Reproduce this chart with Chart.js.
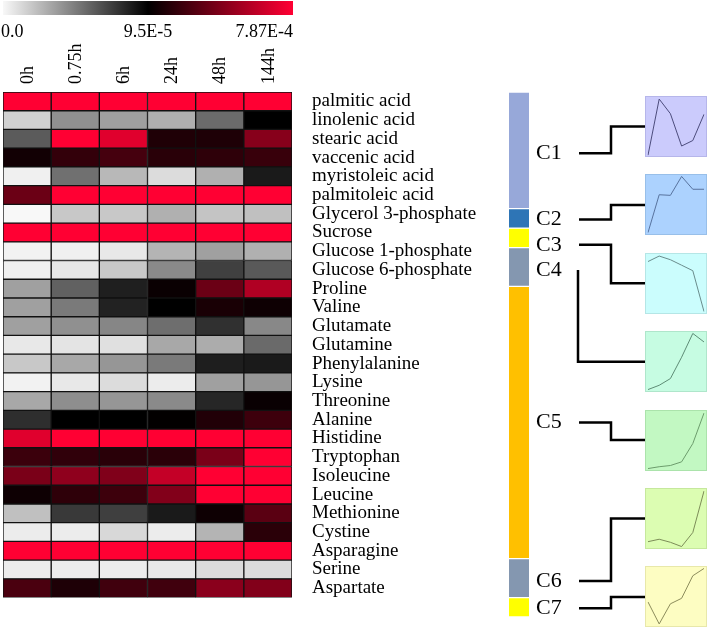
<!DOCTYPE html>
<html>
<head>
<meta charset="utf-8">
<script src="https://cdn.jsdelivr.net/npm/chart.js@4/dist/chart.umd.min.js"></script>
<style>
  html, body { margin: 0; padding: 0; background: #fff; }
  #page { position: relative; width: 709px; height: 629px; overflow: hidden; }
  canvas { position: absolute; }
</style>
</head>
<body>
<div id="page">
  <canvas id="heat" width="500" height="629" style="left:0;top:0"></canvas>
  <canvas id="clusters" width="209" height="629" style="left:500px;top:0"></canvas>
</div>
<script>
// time points (columns) and metabolites (rows)
var TIMES = ['0h', '0.75h', '6h', '24h', '48h', '144h'];
var METABOLITES = ['palmitic acid', 'linolenic acid', 'stearic acid', 'vaccenic acid',
    'myristoleic acid', 'palmitoleic acid', 'Glycerol 3-phosphate', 'Sucrose',
    'Glucose 1-phosphate', 'Glucose 6-phosphate', 'Proline', 'Valine', 'Glutamate',
    'Glutamine', 'Phenylalanine', 'Lysine', 'Threonine', 'Alanine', 'Histidine',
    'Tryptophan', 'Isoleucine', 'Leucine', 'Methionine', 'Cystine', 'Asparagine',
    'Serine', 'Aspartate'];

// cell values, in units of 1E-5 (one array per time point)
var VAL_0H    = [80, 1.5, 6.0, 14.3, 0.3, 38.6, 0, 80, 0.23, 0.31, 3.37, 3.37, 3.37, 0.61, 1.84, 0.23, 3.06, 7.74, 70.4, 25.4, 42.7, 13.3, 2.15, 0.46, 80, 0.46, 29.6];
var VAL_075H  = [80, 4.0, 80, 23.3, 5.2, 80, 1.84, 80, 0.31, 0.67, 5.8, 4.83, 3.98, 0.77, 3.06, 0.61, 4.06, 9.5, 80, 22.6, 48.2, 22, 7.3, 0.46, 80, 0.46, 17.6];
var VAL_6H    = [80, 3.4, 70.4, 28.2, 2.45, 80, 1.84, 80, 0.61, 1.84, 8.3, 8.2, 4.37, 0.92, 3.75, 1.07, 3.75, 9.5, 80, 20.6, 44.1, 26, 7.1, 1.23, 80, 0.46, 27];
var VAL_24H   = [80, 2.8, 17.8, 20.6, 1.07, 80, 2.76, 80, 2.6, 4.2, 12.3, 9.5, 5.3, 3.06, 4.83, 0.46, 4.2, 10, 80, 21, 62.8, 44.8, 8.5, 0.46, 80, 0.61, 26.8];
var VAL_48H   = [80, 5.4, 17.6, 22, 2.76, 80, 2.0, 80, 3.37, 7.05, 38.6, 16.4, 7.66, 2.91, 8.35, 3.37, 8.04, 18.5, 80, 42.7, 80, 80, 13.3, 2.6, 80, 1.07, 47];
var VAL_144H  = [80, 9.5, 46, 24.7, 8.5, 80, 2.15, 80, 2.76, 6.1, 57.3, 13.3, 4.29, 5.44, 8.5, 3.75, 12, 26, 80, 80, 80, 80, 33.9, 21, 80, 1.07, 44.8];
var VALUES = [VAL_0H, VAL_075H, VAL_6H, VAL_24H, VAL_48H, VAL_144H];

// colour key (same 1E-5 units) and its labels
var KEY_STOPS = [0, 9.5, 78.7];
var KEY_LABELS = ['0.0', '9.5E-5', '7.87E-4'];

// clusters, top to bottom (sizes are numbers of rows)
var CLUSTER_NAMES = ['C1', 'C2', 'C3', 'C4', 'C5', 'C6', 'C7'];
var CLUSTER_SIZES = [6, 1, 1, 2, 14, 2, 1];
var CLUSTER_COLORS = ['#97a8d9', '#2e75b6', '#ffff00', '#8497b0', '#ffc000', '#8497b0', '#ffff00'];

// mean profile of each cluster (scaled 0..1)
var PROFILE_C1 = [0.03, 0.95, 0.71, 0.18, 0.27, 0.70];
var PROFILE_C2 = [0.04, 0.66, 0.65, 0.96, 0.75, 0.75];
var PROFILE_C3 = [0.86, 0.95, 0.89, 0.80, 0.71, 0.04];
var PROFILE_C4 = [0.04, 0.11, 0.22, 0.57, 0.96, 0.82];
var PROFILE_C5 = [0.04, 0.07, 0.09, 0.15, 0.45, 0.95];
var PROFILE_C6 = [0.12, 0.16, 0.11, 0.04, 0.27, 0.95];
var PROFILE_C7 = [0.41, 0.05, 0.38, 0.47, 0.84, 0.96];
var PROFILES = [PROFILE_C1, PROFILE_C2, PROFILE_C3, PROFILE_C4, PROFILE_C5, PROFILE_C6, PROFILE_C7];

var PANEL_FILL = ['#cbcbfc', '#acd2fe', '#cbfdfd', '#c6fce2', '#c2f8c2', '#dcfdb2', '#fdfdc2'];
var PANEL_EDGE = ['#b6b6ea', '#98bfe9', '#b5e6e6', '#afe6cb', '#abe3ab', '#c6e89d', '#e8e8aa'];
var PANEL_LINE = ['#4c4c7c', '#58739e', '#6a8c8c', '#5e8c76', '#6c9c6c', '#7c8c58', '#8c8c5c'];

var SERIF = "'Liberation Serif', 'Times New Roman', serif";
var PANEL_LEFT = 645, PANEL_TOP = 96, PANEL_STEP = 78.4, PANEL_W = 62, PANEL_H = 61;
var LABEL_NUDGE = [3, 1, 7, 3, 0, 3, 1];

Chart.defaults.animation = false;
Chart.defaults.font.family = SERIF;
Chart.defaults.color = '#000';

function cellColor(v) {
    var mid = KEY_STOPS[1], max = KEY_STOPS[2];
    if (v <= mid) {
        var g = Math.round(248 * (1 - v / mid));
        return 'rgb(' + g + ',' + g + ',' + g + ')';
    }
    var f = Math.min(1, (v - mid) / (max - mid));
    return 'rgb(' + Math.round(255 * f) + ',0,' + Math.round(51 * f) + ')';
}

/* colour key and the upright time labels above the heat map */
var keyPlugin = {
    id: 'key',
    afterDraw: function(chart) {
        var ctx = chart.ctx, a = chart.chartArea, xs = chart.scales.x;
        var x0 = a.left, x1 = a.right + 1;
        var grad = ctx.createLinearGradient(x0, 0, x1, 0);
        grad.addColorStop(0, cellColor(KEY_STOPS[0]));
        grad.addColorStop(0.5, cellColor(KEY_STOPS[1]));
        grad.addColorStop(1, cellColor(KEY_STOPS[2]));
        ctx.save();
        ctx.fillStyle = grad;
        ctx.fillRect(x0, 1, x1 - x0, 14);
        ctx.fillStyle = '#000';
        ctx.font = '18px ' + SERIF;
        ctx.textBaseline = 'alphabetic';
        ctx.textAlign = 'left';
        ctx.fillText(KEY_LABELS[0], 1, 37);
        ctx.textAlign = 'center';
        ctx.fillText(KEY_LABELS[1], (x0 + x1) / 2, 37);
        ctx.textAlign = 'right';
        ctx.fillText(KEY_LABELS[2], x1, 37);

        ctx.textAlign = 'left';
        ctx.textBaseline = 'middle';
        for (var i = 0; i < TIMES.length; i++) {
            ctx.save();
            ctx.translate(xs.getPixelForValue(i + 0.5) + 1, a.top - 8);
            ctx.rotate(-Math.PI / 2);
            ctx.fillText(TIMES[i], 0, 0);
            ctx.restore();
        }
        ctx.restore();
    }
};

var heatSets = [];
for (var t = 0; t < TIMES.length; t++) {
    heatSets.push({
        label: TIMES[t],
        data: METABOLITES.map(function() { return 1; }),
        backgroundColor: VALUES[t].map(cellColor),
        borderColor: '#111',
        borderWidth: 1,
        borderSkipped: false,
        barPercentage: 1,
        categoryPercentage: 1
    });
}

new Chart(document.getElementById('heat'), {
    type: 'bar',
    data: { labels: METABOLITES, datasets: heatSets },
    options: {
        indexAxis: 'y',
        responsive: false,
        devicePixelRatio: 1,
        layout: { padding: { left: 3, right: 0, top: 0, bottom: 12 } },
        plugins: { legend: { display: false }, tooltip: { enabled: false } },
        scales: {
            x: {
                type: 'linear', position: 'top', stacked: true, min: 0, max: TIMES.length,
                grid: { display: false }, border: { display: false },
                afterFit: function(s) { s.height = 92; },
                ticks: { display: false }
            },
            y: {
                position: 'right', stacked: true,
                grid: { display: false, drawTicks: false }, border: { display: false },
                afterFit: function(s) { s.width = 208; },
                ticks: { padding: 20, font: { size: 19 }, autoSkip: false }
            }
        }
    },
    plugins: [keyPlugin]
});

/* cluster bar, cluster names and connectors to the profile panels */
var clusterSets = [];
var start = 0;
for (var c = 0; c < CLUSTER_SIZES.length; c++) {
    clusterSets.push({
        label: CLUSTER_NAMES[c],
        data: [[start, start + CLUSTER_SIZES[c]]],
        backgroundColor: CLUSTER_COLORS[c],
        borderColor: '#fff',
        borderWidth: { top: 1, bottom: 1, left: 0, right: 0 },
        borderSkipped: false,
        barPercentage: 1,
        categoryPercentage: 1,
        grouped: false
    });
    start += CLUSTER_SIZES[c];
}

var connectorPlugin = {
    id: 'connectors',
    afterDraw: function(chart) {
        var ctx = chart.ctx, ys = chart.scales.y;
        var from = 0;
        ctx.save();
        ctx.font = '22px ' + SERIF;
        ctx.textBaseline = 'middle';
        ctx.fillStyle = '#000';
        ctx.strokeStyle = '#000';
        ctx.lineWidth = 2.5;
        for (var i = 0; i < CLUSTER_SIZES.length; i++) {
            var yl = ys.getPixelForValue(from + CLUSTER_SIZES[i] / 2) + LABEL_NUDGE[i];
            from += CLUSTER_SIZES[i];
            ctx.fillText(CLUSTER_NAMES[i], 36, yl);
            var yp = PANEL_TOP + PANEL_STEP * i + PANEL_H / 2;
            var xs = (i == 3) ? 78 : 79;
            var xe = (i == 3) ? 78 : 111;
            ctx.beginPath();
            ctx.moveTo(xs, yl);
            ctx.lineTo(xe, yl);
            ctx.lineTo(xe, yp);
            ctx.lineTo(PANEL_LEFT - 500, yp);
            ctx.stroke();
        }
        ctx.restore();
    }
};

new Chart(document.getElementById('clusters'), {
    type: 'bar',
    data: { labels: ['cluster'], datasets: clusterSets },
    options: {
        responsive: false,
        devicePixelRatio: 1,
        layout: { padding: { left: 9, right: 180, top: 92, bottom: 12 } },
        plugins: { legend: { display: false }, tooltip: { enabled: false } },
        scales: {
            x: { display: false },
            y: { display: false, min: 0, max: METABOLITES.length, reverse: true }
        }
    },
    plugins: [connectorPlugin]
});

/* one small line chart per cluster profile */
var page = document.getElementById('page');
PROFILES.forEach(function(p, i) {
    var cv = document.createElement('canvas');
    cv.width = PANEL_W;
    cv.height = PANEL_H;
    cv.style.left = PANEL_LEFT + 'px';
    cv.style.top = Math.round(PANEL_TOP + PANEL_STEP * i) + 'px';
    page.appendChild(cv);
    new Chart(cv, {
        type: 'line',
        data: {
            labels: TIMES,
            datasets: [{ data: p, borderColor: PANEL_LINE[i], borderWidth: 1, pointRadius: 0, tension: 0 }]
        },
        options: {
            responsive: false,
            devicePixelRatio: 1,
            layout: { padding: { left: 3, right: 3, top: 0, bottom: 0 } },
            plugins: { legend: { display: false }, tooltip: { enabled: false } },
            scales: {
                x: { display: false },
                y: { display: false, min: 0, max: 1 }
            }
        },
        plugins: [{
            id: 'panelBg',
            beforeDraw: function(chart) {
                var ctx = chart.ctx;
                ctx.save();
                ctx.fillStyle = PANEL_FILL[i];
                ctx.fillRect(0, 0, chart.width, chart.height);
                ctx.strokeStyle = PANEL_EDGE[i];
                ctx.lineWidth = 1;
                ctx.strokeRect(0.5, 0.5, chart.width - 1, chart.height - 1);
                ctx.restore();
            }
        }]
    });
});
</script>
</body>
</html>
